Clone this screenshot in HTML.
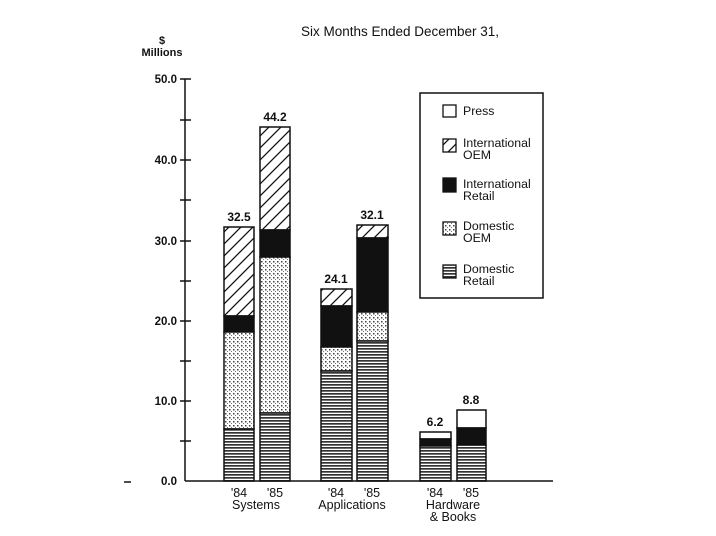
<!DOCTYPE html><html><head><style>body{margin:0;background:#fff}svg{display:block}text{font-family:"Liberation Sans",sans-serif;fill:#111}</style></head><body>
<svg width="716" height="536" viewBox="0 0 716 536">
<defs>
<pattern id="hatch" width="12" height="12" patternUnits="userSpaceOnUse"><path d="M-3,15 L15,-3 M-3,3 L3,-3 M9,15 L15,9" stroke="#111" stroke-width="1.3"/></pattern>
<pattern id="dots" width="4" height="4" patternUnits="userSpaceOnUse"><rect width="4" height="4" fill="#fff"/><rect x="1" y="1" width="1.5" height="1.5" fill="#444"/><rect x="3" y="3" width="1.2" height="1.2" fill="#777"/></pattern>
<pattern id="lines" width="4" height="3" patternUnits="userSpaceOnUse"><rect width="4" height="3" fill="#fff"/><rect width="4" height="1.7" fill="#333"/></pattern>
</defs>
<text x="400" y="36" font-size="13.5" text-anchor="middle">Six Months Ended December 31,</text>
<text x="162" y="44" font-size="11" font-weight="bold" text-anchor="middle">$</text>
<text x="162" y="56" font-size="11" font-weight="bold" text-anchor="middle">Millions</text>
<g stroke="#111" stroke-width="1.5">
<line x1="185" y1="79" x2="185" y2="481"/>
<line x1="185" y1="481" x2="553" y2="481"/>
<line x1="180" y1="79" x2="191" y2="79"/><line x1="180" y1="160" x2="191" y2="160"/><line x1="180" y1="241" x2="191" y2="241"/><line x1="180" y1="321" x2="191" y2="321"/><line x1="180" y1="401" x2="191" y2="401"/>
<line x1="180" y1="120" x2="191" y2="120"/><line x1="180" y1="200" x2="191" y2="200"/><line x1="180" y1="281" x2="191" y2="281"/><line x1="180" y1="361" x2="191" y2="361"/><line x1="180" y1="441" x2="191" y2="441"/>
<line x1="124" y1="482" x2="131" y2="482"/>
</g>
<g font-size="11.5" font-weight="bold" text-anchor="end">
<text x="177" y="83">50.0</text><text x="177" y="164">40.0</text><text x="177" y="245">30.0</text><text x="177" y="325">20.0</text><text x="177" y="405">10.0</text><text x="177" y="485">0.0</text>
</g>
<g stroke="#111" stroke-width="1.5">
<rect x="224" y="227" width="30" height="89" fill="url(#hatch)"/>
<rect x="224" y="316" width="30" height="16" fill="#111"/>
<rect x="224" y="332" width="30" height="97" fill="url(#dots)"/>
<rect x="224" y="429" width="30" height="52" fill="url(#lines)"/>
<rect x="260" y="127" width="30" height="103" fill="url(#hatch)"/>
<rect x="260" y="230" width="30" height="27" fill="#111"/>
<rect x="260" y="257" width="30" height="156" fill="url(#dots)"/>
<rect x="260" y="413" width="30" height="68" fill="url(#lines)"/>
<rect x="321" y="289" width="31" height="17" fill="url(#hatch)"/>
<rect x="321" y="306" width="31" height="41" fill="#111"/>
<rect x="321" y="347" width="31" height="24" fill="url(#dots)"/>
<rect x="321" y="371" width="31" height="110" fill="url(#lines)"/>
<rect x="357" y="225" width="31" height="13" fill="url(#hatch)"/>
<rect x="357" y="238" width="31" height="74" fill="#111"/>
<rect x="357" y="312" width="31" height="29" fill="url(#dots)"/>
<rect x="357" y="341" width="31" height="140" fill="url(#lines)"/>
<rect x="420" y="432" width="31" height="7" fill="#fff"/>
<rect x="420" y="439" width="31" height="7" fill="#111"/>
<rect x="420" y="446" width="31" height="35" fill="url(#lines)"/>
<rect x="457" y="410" width="29" height="18" fill="#fff"/>
<rect x="457" y="428" width="29" height="17" fill="#111"/>
<rect x="457" y="445" width="29" height="36" fill="url(#lines)"/>
</g>
<g font-size="12" font-weight="bold" text-anchor="middle">
<text x="239" y="221">32.5</text><text x="275" y="121">44.2</text><text x="336" y="283">24.1</text><text x="372" y="219">32.1</text><text x="435" y="426">6.2</text><text x="471" y="404">8.8</text>
</g>
<g font-size="12.5" text-anchor="middle">
<text x="239" y="497">'84</text><text x="275" y="497">'85</text><text x="256" y="509">Systems</text>
<text x="336" y="497">'84</text><text x="372" y="497">'85</text><text x="352" y="509">Applications</text>
<text x="435" y="497">'84</text><text x="471" y="497">'85</text><text x="453" y="509">Hardware</text><text x="453" y="521">&amp; Books</text>
</g>
<rect x="420" y="93" width="123" height="205" fill="#fff" stroke="#111" stroke-width="1.5"/>
<g stroke="#111" stroke-width="1.3">
<rect x="443" y="105" width="13" height="12" fill="#fff"/>
<rect x="443" y="139" width="13" height="13" fill="url(#hatch)"/>
<rect x="443" y="178" width="13" height="14" fill="#111"/>
<rect x="443" y="222" width="13" height="13" fill="url(#dots)"/>
<rect x="443" y="265" width="13" height="13" fill="url(#lines)"/>
</g>
<g font-size="12.3">
<text x="463" y="115">Press</text>
<text x="463" y="147">International</text><text x="463" y="159">OEM</text>
<text x="463" y="188">International</text><text x="463" y="200">Retail</text>
<text x="463" y="230">Domestic</text><text x="463" y="242">OEM</text>
<text x="463" y="273">Domestic</text><text x="463" y="285">Retail</text>
</g>
</svg></body></html>
